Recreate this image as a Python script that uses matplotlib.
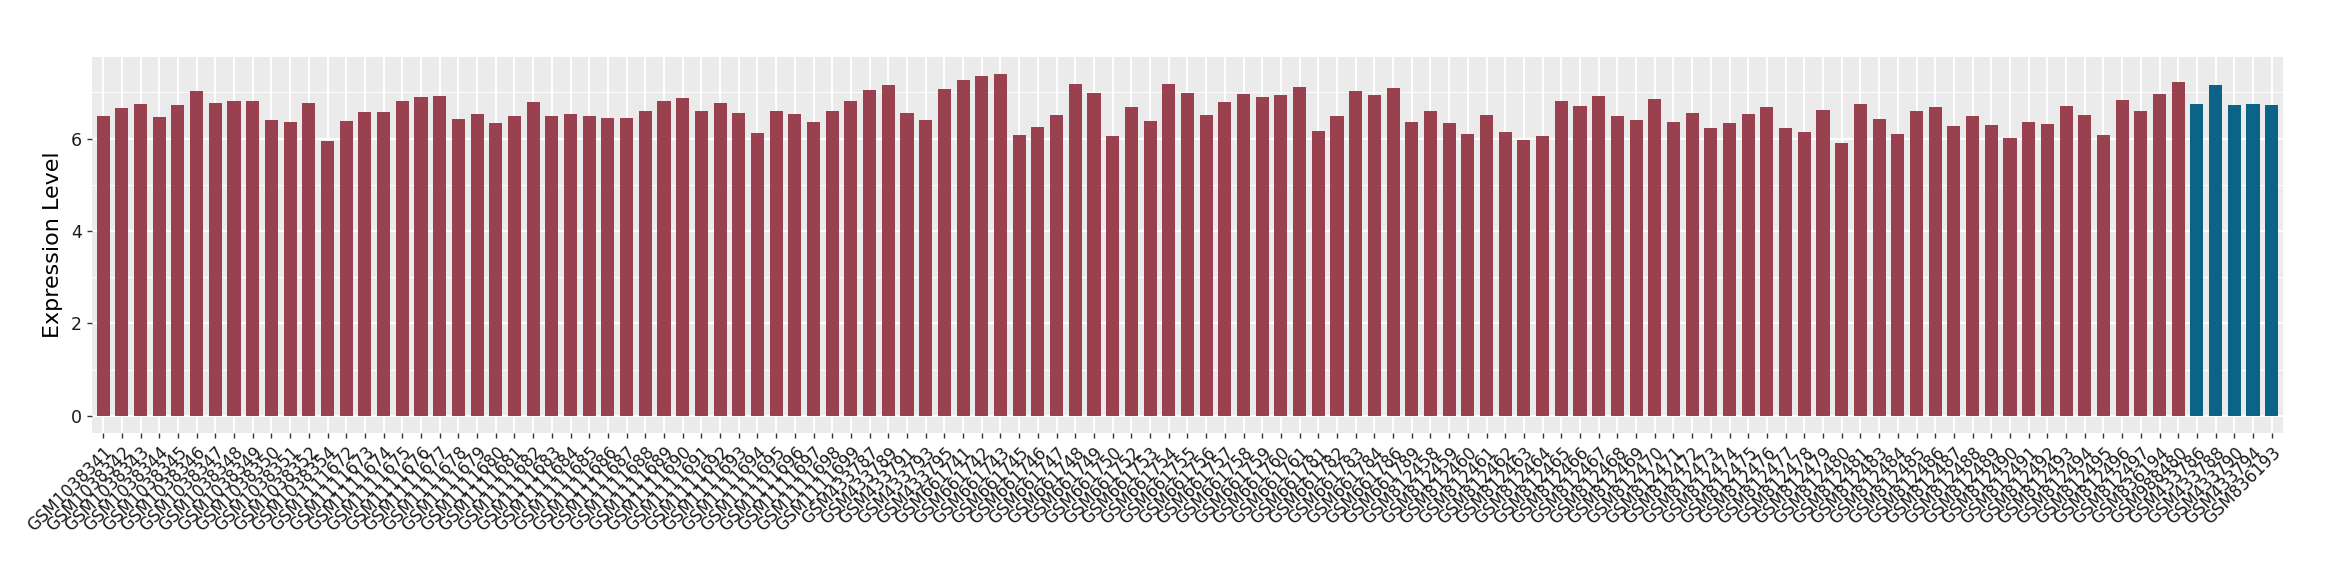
import numpy as np
import matplotlib
matplotlib.use('Agg')
import matplotlib.pyplot as plt

# --- Data: sample labels and expression values ---
samples_1038 = ['GSM1038341', 'GSM1038342', 'GSM1038343', 'GSM1038344', 'GSM1038345',
                'GSM1038346', 'GSM1038347', 'GSM1038348', 'GSM1038349', 'GSM1038350',
                'GSM1038351', 'GSM1038352', 'GSM1038354']
samples_1111 = ['GSM1111%d' % n for n in range(672, 700)]
samples_433 = ['GSM433787', 'GSM433789', 'GSM433791', 'GSM433793', 'GSM433795']
samples_661 = ['GSM661741', 'GSM661742', 'GSM661743', 'GSM661745', 'GSM661746',
               'GSM661747', 'GSM661748', 'GSM661749', 'GSM661750', 'GSM661752',
               'GSM661753', 'GSM661754', 'GSM661755', 'GSM661756', 'GSM661757',
               'GSM661758', 'GSM661759', 'GSM661760', 'GSM661761', 'GSM661781',
               'GSM661782', 'GSM661783', 'GSM661784', 'GSM661786', 'GSM661789']
samples_812 = (['GSM812%d' % n for n in range(458, 482)] +
               ['GSM812%d' % n for n in range(483, 498)])
samples_other = ['GSM836194', 'GSM988480']
samples_blue = ['GSM433786', 'GSM433788', 'GSM433790', 'GSM433794', 'GSM836193']

values_red = [
    6.49, 6.66, 6.75, 6.46, 6.72, 7.03, 6.77, 6.81, 6.81, 6.40,
    6.36, 6.77, 5.94, 6.38, 6.57, 6.57, 6.81, 6.90, 6.92, 6.42,
    6.53, 6.33, 6.49, 6.79, 6.49, 6.53, 6.49, 6.44, 6.44, 6.59,
    6.81, 6.88, 6.59, 6.77, 6.55, 6.12, 6.59, 6.53, 6.36, 6.59,
    6.81, 7.05, 7.16, 6.55, 6.40, 7.07, 7.27, 7.36, 7.40, 6.07,
    6.25, 6.51, 7.18, 6.99, 6.05, 6.68, 6.38, 7.18, 6.99, 6.51,
    6.79, 6.96, 6.90, 6.94, 7.12, 6.16, 6.49, 7.03, 6.94, 7.09,
    6.36, 6.59, 6.33, 6.09, 6.51, 6.14, 5.96, 6.05, 6.81, 6.70,
    6.92, 6.49, 6.40, 6.86, 6.36, 6.55, 6.22, 6.33, 6.53, 6.68,
    6.22, 6.14, 6.62, 5.90, 6.75, 6.42, 6.09, 6.59, 6.68, 6.27,
    6.49, 6.29, 6.01, 6.36, 6.31, 6.70, 6.51, 6.07, 6.83, 6.59,
    6.96, 7.22,
]
values_blue = [6.75, 7.16, 6.72, 6.75, 6.72]

labels_red = samples_1038 + samples_1111 + samples_433 + samples_661 + samples_812 + samples_other
labels = labels_red + samples_blue
values = values_red + values_blue

RED = '#9A4150'
BLUE = '#0B6487'
colors = [RED] * len(values_red) + [BLUE] * len(values_blue)

# --- Plot ---
fig = plt.figure(figsize=(23.4, 5.8), dpi=100)
ax = fig.add_axes([0.0393, 0.2534, 0.9363, 0.6488])

x = np.arange(len(labels))
ax.set_facecolor('#EBEBEB')
ax.bar(x, values, width=0.7, color=colors, zorder=3)

ax.set_xlim(-0.6, len(labels) - 1 + 0.6)
ax.set_ylim(-0.37, 7.77)
ax.set_yticks([0, 2, 4, 6])
ax.set_yticks([1, 3, 5, 7], minor=True)
ax.set_xticks(x)
ax.set_xticklabels(labels, rotation=45, ha='right', va='top', rotation_mode='anchor',
                   fontsize=12, color='#1A1A1A')
ax.tick_params(axis='y', which='major', labelsize=12.5, labelcolor='#1A1A1A',
               length=3.5, color='#333333', width=1)
ax.tick_params(axis='y', which='minor', length=0)
ax.tick_params(axis='x', length=3.5, color='#333333', width=1, pad=4)

ax.grid(True, which='major', color='white', linewidth=1.4, zorder=0)
ax.grid(True, which='minor', axis='y', color='white', linewidth=0.7, zorder=0)
ax.set_axisbelow(True)
for s in ax.spines.values():
    s.set_visible(False)

ax.set_ylabel('Expression Level', fontsize=16, labelpad=6, color='black')

fig.savefig('out.png', dpi=100, facecolor='white')
